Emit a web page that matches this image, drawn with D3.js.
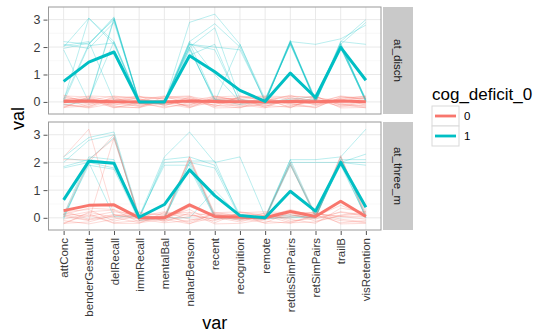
<!DOCTYPE html>
<html>
<head>
<meta charset="utf-8">
<script src="https://cdn.jsdelivr.net/npm/d3@7"></script>
<style>
  body { margin: 0; background: #fff; }
  text { font-family: "Liberation Sans", Arial, sans-serif; }
</style>
</head>
<body>
<div id="chart"></div>
<script>
// categories on the x axis
const categories = ["attConc", "benderGestault", "delRecall", "immRecall", "mentalBal", "naharBenson",
  "recent", "recognition", "remote", "retdisSimPairs", "retSimPairs", "trailB", "visRetention"];
const facets = ["at_disch", "at_three_m"];
const groups = ["0", "1"];
const yTicks = [0, 1, 2, 3];
const yMinor = [0.5, 1.5, 2.5];

// group means (thick lines)
const meanDisch0 = [0.02, 0.03, 0.01, 0.0, 0.0, 0.03, 0.02, 0.01, 0.0, 0.02, 0.01, 0.03, 0.01];
const meanDisch1 = [0.75, 1.45, 1.82, 0.0, 0.0, 1.68, 1.1, 0.42, 0.02, 1.05, 0.16, 1.99, 0.79];
const meanThree0 = [0.26, 0.45, 0.47, 0.0, 0.0, 0.47, 0.05, 0.03, 0.0, 0.23, 0.05, 0.6, 0.05];
const meanThree1 = [0.65, 2.04, 1.97, 0.02, 0.48, 1.73, 0.8, 0.08, 0.0, 0.96, 0.24, 2.0, 0.38];

// individual subjects (thin lines)
const subjDisch0 = [
  [0.22, 0.18, -0.12, 0.08, 0.15, 0.20, 0.05, -0.08, 0.18, 0.12, -0.05, 0.22, 0.10],
  [-0.20, -0.15, 0.10, -0.05, -0.18, -0.10, 0.15, 0.12, -0.20, -0.15, 0.08, -0.10, -0.18],
  [0.05, 0.22, 0.18, -0.15, 0.02, 0.12, -0.18, 0.20, 0.05, 0.22, 0.15, 0.05, -0.05],
  [-0.10, -0.22, -0.05, 0.18, 0.10, -0.20, 0.02, -0.15, 0.10, -0.05, -0.20, 0.15, 0.20],
  [0.15, 0.05, 0.22, 0.10, -0.10, 0.05, 0.20, 0.05, -0.12, -0.20, 0.10, -0.18, -0.10],
  [-0.18, 0.10, -0.20, -0.20, 0.20, -0.05, -0.10, 0.18, 0.22, 0.18, -0.12, 0.08, 0.15],
  [0.10, -0.08, 0.05, 0.22, -0.15, 0.18, -0.22, -0.20, -0.05, 0.05, 0.22, -0.22, -0.20],
  [-0.05, 0.15, -0.18, -0.10, 0.05, -0.15, 0.12, 0.10, 0.15, -0.12, -0.02, 0.20, 0.05],
  [0.25, -0.05, 0.12, 0.05, 0.22, 0.10, -0.05, -0.02, -0.18, 0.20, 0.18, -0.05, -0.15],
  [-0.22, 0.20, 0.02, -0.18, -0.05, -0.22, 0.18, 0.22, 0.08, -0.18, -0.15, 0.10, 0.22],
  [0.12, -0.18, 0.20, 0.15, 0.18, 0.22, -0.15, -0.10, -0.22, 0.15, 0.05, -0.15, -0.02],
  [0.02, 0.08, -0.22, -0.02, -0.22, -0.02, 0.08, 0.15, 0.20, -0.08, -0.22, 0.18, 0.12],
  [-0.15, -0.10, 0.15, 0.20, 0.12, 0.15, -0.02, -0.18, -0.10, 0.02, 0.12, -0.08, -0.22],
  [0.18, 0.02, -0.08, -0.12, -0.02, -0.12, 0.22, 0.02, 0.02, 0.25, -0.08, 0.02, 0.18],
  [-0.08, -0.20, 0.08, 0.12, -0.12, 0.08, -0.12, -0.22, 0.12, -0.22, 0.20, -0.12, 0.02],
  [0.08, 0.12, -0.15, -0.22, 0.08, -0.18, 0.10, 0.08, -0.15, 0.08, -0.10, 0.12, -0.12]
];
const subjDisch1 = [
  [2.20, 2.10, 3.05, 0.05, -0.05, 2.90, 3.20, 2.10, 0.10, 2.20, 0.10, 2.20, 3.00],
  [2.00, 3.05, 2.20, 0.00, 0.05, 2.20, 2.85, 2.00, 0.00, 2.15, 0.05, 2.10, 2.90],
  [1.95, 2.15, 3.00, -0.05, 0.00, 2.00, 2.70, 0.10, -0.05, 2.20, 2.10, 2.30, 2.80],
  [0.10, 2.10, 3.10, 0.00, -0.10, 1.90, 0.10, -0.10, 0.05, 2.25, 0.00, 2.00, 0.10],
  [0.00, 0.10, 2.20, 0.05, 0.00, 2.10, 1.90, 0.00, 0.00, 0.05, 0.10, 2.10, 0.00],
  [2.05, 2.20, 0.05, 0.00, 0.00, 1.70, 2.10, -0.05, 0.10, 2.10, 0.00, 1.95, 0.05],
  [-0.10, 0.00, 3.00, 0.00, 0.05, 2.00, 0.00, 2.10, 0.00, 2.20, -0.05, 2.20, 2.10],
  [0.05, 3.05, 2.10, 0.00, 0.00, 0.00, 0.05, 0.00, -0.05, 0.00, 0.05, 2.05, 0.10],
  [1.90, 0.00, 0.00, -0.05, 0.00, 2.20, 1.00, 0.00, 0.00, 2.15, 0.10, 2.00, 0.00],
  [0.00, 2.05, 2.15, 0.00, 0.00, 1.95, 0.05, 0.05, 0.00, 0.10, 0.20, 2.10, 0.05],
  [2.10, 1.95, 2.90, 0.05, 0.00, 2.10, 2.00, 1.90, 0.05, 2.10, 0.05, 2.00, 0.00],
  [0.00, 0.05, 3.05, 0.00, -0.05, 2.15, 0.10, 0.00, 0.00, 2.20, 0.00, 2.15, 0.05]
];
const subjThree0 = [
  [2.20, 3.20, 0.10, 0.02, 0.05, 2.10, 0.10, 0.00, -0.05, 2.00, 0.10, 2.20, 0.10],
  [2.10, 2.10, 2.85, 0.05, -0.05, 2.20, 0.00, 0.05, 0.00, 0.10, 0.00, 2.10, 0.20],
  [0.10, 2.00, 3.00, -0.10, 0.10, 0.10, -0.05, 0.10, 0.05, 1.90, 0.05, 2.25, 0.00],
  [0.05, -0.10, 2.90, 0.05, 0.00, 2.20, 0.15, -0.05, 0.10, 0.00, 0.15, 0.05, 0.05],
  [0.22, 0.30, -0.12, 0.08, 0.15, 0.20, 0.05, -0.08, 0.18, 0.12, -0.05, 0.22, 0.10],
  [-0.20, -0.15, 0.10, -0.05, -0.18, -0.10, 0.15, 0.12, -0.20, -0.15, 0.08, -0.10, -0.18],
  [0.05, 0.22, 0.28, -0.15, 0.02, 0.30, -0.18, 0.20, 0.05, 0.22, 0.15, 0.05, -0.05],
  [-0.10, -0.22, -0.05, 0.18, 0.10, -0.20, 0.02, -0.15, 0.10, -0.05, -0.20, 0.35, 0.20],
  [0.15, 0.05, 0.22, 0.10, -0.10, 0.05, 0.20, 0.05, -0.12, -0.20, 0.10, -0.18, -0.10],
  [-0.18, 0.10, -0.20, -0.20, 0.20, -0.05, -0.10, 0.18, 0.22, 0.18, -0.12, 0.08, 0.15],
  [0.10, -0.08, 0.05, 0.22, -0.15, 0.18, -0.22, -0.20, -0.05, 0.05, 0.22, -0.22, -0.20],
  [-0.05, 0.15, -0.18, -0.10, 0.05, -0.15, 0.12, 0.10, 0.15, -0.12, -0.02, 0.20, 0.05],
  [0.25, -0.05, 0.12, 0.05, 0.22, 0.10, -0.05, -0.02, -0.18, 0.20, 0.18, -0.05, -0.15],
  [-0.22, 0.20, 0.02, -0.18, -0.05, -0.22, 0.18, 0.22, 0.08, -0.18, -0.15, 0.10, 0.22],
  [0.12, 0.35, 0.30, 0.00, -0.10, 0.40, 0.10, -0.10, 0.02, 0.30, 0.05, 0.45, 0.10]
];
const subjThree1 = [
  [2.20, 2.90, 3.10, 0.05, 2.20, 3.10, 2.00, 2.20, 0.05, 2.10, 2.10, 2.20, 3.20],
  [2.00, 2.80, 3.00, -0.05, 2.10, 2.20, 1.90, 0.10, 0.00, 2.00, 2.00, 2.00, 2.30],
  [1.85, 2.10, 2.90, 0.00, 0.00, 2.00, 1.80, 0.00, -0.05, 1.90, 0.10, 2.10, 2.10],
  [1.80, 2.00, 1.80, 0.05, 1.90, 1.90, 0.05, 0.05, 0.00, 2.00, 0.05, 2.00, 1.90],
  [0.05, 1.90, 1.75, -0.10, 0.00, 1.80, 0.00, -0.05, 0.05, 0.10, 0.00, 2.20, 0.00],
  [0.00, 2.10, 2.00, 0.00, 0.05, 2.10, 0.10, 0.00, 0.00, 2.10, 0.10, 1.90, 0.05],
  [-0.05, 2.00, 0.05, 0.05, 0.00, 0.00, 1.00, 0.05, 0.00, 0.00, 0.05, 2.00, 0.00],
  [0.10, 2.20, 2.10, 0.00, -0.05, 2.00, 0.05, 0.00, -0.05, 0.05, 0.00, 2.10, 0.10],
  [2.15, 2.05, 1.95, 0.00, 2.00, 2.05, 2.05, 0.00, 0.00, 1.95, 0.00, 2.00, 2.00]
];

const colors = { "0": "#F8766D", "1": "#00BFC4" };

const panels = [
  { name: facets[0], top: 7, bottom: 114, subj: { "0": subjDisch0, "1": subjDisch1 }, mean: { "0": meanDisch0, "1": meanDisch1 } },
  { name: facets[1], top: 122, bottom: 230, subj: { "0": subjThree0, "1": subjThree1 }, mean: { "0": meanThree0, "1": meanThree1 } }
];

const width = 549, height = 334;
const left = 48.5, right = 381;

const svg = d3.select("#chart").append("svg")
  .attr("width", width)
  .attr("height", height);

const x = d3.scalePoint()
  .domain(categories)
  .range([left, right])
  .padding(0.6);

panels.forEach(p => {
  const y = d3.scaleLinear()
    .domain([-0.44, 3.46])
    .range([p.bottom, p.top]);

  const g = svg.append("g");

  // panel background + grid
  g.append("rect")
    .attr("x", left).attr("y", p.top)
    .attr("width", right - left).attr("height", p.bottom - p.top)
    .attr("fill", "#fff");

  g.selectAll(".minor")
    .data(yMinor)
    .enter().append("line")
    .attr("x1", left).attr("x2", right)
    .attr("y1", d => y(d)).attr("y2", d => y(d))
    .attr("stroke", "#f3f3f3").attr("stroke-width", 0.6);

  g.selectAll(".major")
    .data(yTicks)
    .enter().append("line")
    .attr("x1", left).attr("x2", right)
    .attr("y1", d => y(d)).attr("y2", d => y(d))
    .attr("stroke", "#e6e6e6").attr("stroke-width", 0.9);

  g.selectAll(".vgrid")
    .data(categories)
    .enter().append("line")
    .attr("x1", d => x(d)).attr("x2", d => x(d))
    .attr("y1", p.top).attr("y2", p.bottom)
    .attr("stroke", "#e6e6e6").attr("stroke-width", 0.9);

  const line = d3.line()
    .x((d, i) => x(categories[i]))
    .y(d => y(d));

  // thin subject lines
  ["1", "0"].forEach(k => {
    g.selectAll(".subj" + k)
      .data(p.subj[k])
      .enter().append("path")
      .attr("d", line)
      .attr("fill", "none")
      .attr("stroke", colors[k])
      .attr("stroke-opacity", k === "0" ? 0.3 : 0.3)
      .attr("stroke-width", 0.9);
  });

  // mean lines
  groups.forEach(k => {
    g.append("path")
      .datum(p.mean[k])
      .attr("d", line)
      .attr("fill", "none")
      .attr("stroke", colors[k])
      .attr("stroke-width", 3)
      .attr("stroke-linejoin", "round");
  });

  // panel border
  g.append("rect")
    .attr("x", left).attr("y", p.top)
    .attr("width", right - left).attr("height", p.bottom - p.top)
    .attr("fill", "none")
    .attr("stroke", "#9a9a9a").attr("stroke-width", 1);

  // y axis
  const yAxis = d3.axisLeft(y).tickValues(yTicks).tickFormat(d3.format("d")).tickSize(4).tickPadding(3);
  const ya = svg.append("g")
    .attr("transform", `translate(${left - 1},0)`)
    .call(yAxis);
  ya.select(".domain").remove();
  ya.selectAll("line").attr("stroke", "#555");
  ya.selectAll("text")
    .attr("fill", "#3a3a3a")
    .style("font-size", "12.5px");

  // strip
  svg.append("rect")
    .attr("x", right + 2).attr("y", p.top)
    .attr("width", 30).attr("height", p.bottom - p.top)
    .attr("fill", "#c9c9c9");
  svg.append("text")
    .attr("transform", `translate(${right + 17},${(p.top + p.bottom) / 2}) rotate(90)`)
    .attr("text-anchor", "middle")
    .attr("dy", "0.35em")
    .attr("fill", "#1a1a1a")
    .style("font-size", "11.5px")
    .text(p.name);
});

// x axis (under bottom panel)
const xa = svg.append("g")
  .attr("transform", `translate(0,${panels[1].bottom + 1})`)
  .call(d3.axisBottom(x).tickSize(4).tickPadding(3));
xa.select(".domain").remove();
xa.selectAll("line").attr("stroke", "#555");
xa.selectAll("text")
  .attr("fill", "#3a3a3a")
  .style("font-size", "11.5px")
  .attr("text-anchor", "end")
  .attr("transform", "rotate(-90)")
  .attr("x", -7)
  .attr("y", 0)
  .attr("dy", "0.35em");

// axis titles
svg.append("text")
  .attr("x", (left + right) / 2).attr("y", 329)
  .attr("text-anchor", "middle")
  .style("font-size", "18px")
  .text("var");

svg.append("text")
  .attr("transform", `translate(24,${(panels[0].top + panels[1].bottom) / 2}) rotate(-90)`)
  .attr("text-anchor", "middle")
  .style("font-size", "18px")
  .text("val");

// legend
const lg = svg.append("g").attr("transform", "translate(432,0)");
lg.append("text")
  .attr("x", 0).attr("y", 100)
  .style("font-size", "17px")
  .text("cog_deficit_0");

groups.forEach((k, i) => {
  const ky = 106 + i * 20;
  lg.append("rect")
    .attr("x", 0).attr("y", ky)
    .attr("width", 27).attr("height", 20)
    .attr("fill", "#fff")
    .attr("stroke", "#d9d9d9").attr("stroke-width", 1);
  lg.append("line")
    .attr("x1", 3).attr("x2", 24)
    .attr("y1", ky + 10).attr("y2", ky + 10)
    .attr("stroke", colors[k]).attr("stroke-width", 2.8);
  lg.append("text")
    .attr("x", 32).attr("y", ky + 10)
    .attr("dy", "0.35em")
    .style("font-size", "11.5px")
    .text(k);
});
</script>
</body>
</html>
